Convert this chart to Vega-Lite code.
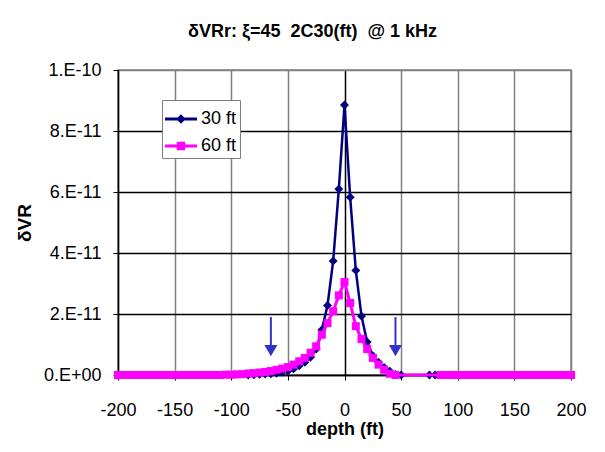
{
  "$schema": "https://vega.github.io/schema/vega-lite/v6.json",
  "autosize": "none",
  "width": 453,
  "height": 305,
  "padding": {"left": 118, "top": 70, "right": 34, "bottom": 77},
  "background": "white",
  "config": {
    "font": "Liberation Sans",
    "view": {"stroke": "#808080", "strokeWidth": 1.5}
  },
  "title": {
    "text": "δVRr: ξ=45 \u00a02C30(ft) \u00a0@ 1 kHz",
    "font": "Liberation Sans",
    "fontSize": 18,
    "fontWeight": "bold",
    "color": "black",
    "anchor": "middle",
    "dx": -32,
    "baseline": "alphabetic",
    "offset": 6
  },
  "datasets": {
    "curves": [
      {"series": "30 ft", "depth": -85, "v": 0.0},
      {"series": "30 ft", "depth": -80, "v": 0.01e-11},
      {"series": "30 ft", "depth": -75, "v": 0.02e-11},
      {"series": "30 ft", "depth": -70, "v": 0.03e-11},
      {"series": "30 ft", "depth": -65, "v": 0.04e-11},
      {"series": "30 ft", "depth": -60, "v": 0.06e-11},
      {"series": "30 ft", "depth": -55, "v": 0.09e-11},
      {"series": "30 ft", "depth": -50, "v": 0.13e-11},
      {"series": "30 ft", "depth": -45, "v": 0.2e-11},
      {"series": "30 ft", "depth": -40, "v": 0.3e-11},
      {"series": "30 ft", "depth": -35, "v": 0.42e-11},
      {"series": "30 ft", "depth": -30, "v": 0.58e-11},
      {"series": "30 ft", "depth": -25, "v": 0.85e-11},
      {"series": "30 ft", "depth": -20, "v": 1.48e-11},
      {"series": "30 ft", "depth": -15, "v": 2.28e-11},
      {"series": "30 ft", "depth": -10, "v": 3.74e-11},
      {"series": "30 ft", "depth": -5, "v": 6.1e-11},
      {"series": "30 ft", "depth": 0, "v": 8.85e-11},
      {"series": "30 ft", "depth": 5, "v": 5.83e-11},
      {"series": "30 ft", "depth": 10, "v": 3.43e-11},
      {"series": "30 ft", "depth": 15, "v": 1.93e-11},
      {"series": "30 ft", "depth": 20, "v": 1.08e-11},
      {"series": "30 ft", "depth": 25, "v": 0.63e-11},
      {"series": "30 ft", "depth": 30, "v": 0.42e-11},
      {"series": "30 ft", "depth": 35, "v": 0.25e-11},
      {"series": "30 ft", "depth": 40, "v": 0.12e-11},
      {"series": "30 ft", "depth": 45, "v": 0.02e-11},
      {"series": "30 ft", "depth": 50, "v": 0.0},
      {"series": "30 ft", "depth": 75, "v": 0.0},
      {"series": "30 ft", "depth": 80, "v": 0.0},
      {"series": "60 ft", "depth": -200, "v": 0.0},
      {"series": "60 ft", "depth": -195, "v": 0.0},
      {"series": "60 ft", "depth": -190, "v": 0.0},
      {"series": "60 ft", "depth": -185, "v": 0.0},
      {"series": "60 ft", "depth": -180, "v": 0.0},
      {"series": "60 ft", "depth": -175, "v": 0.0},
      {"series": "60 ft", "depth": -170, "v": 0.0},
      {"series": "60 ft", "depth": -165, "v": 0.0},
      {"series": "60 ft", "depth": -160, "v": 0.0},
      {"series": "60 ft", "depth": -155, "v": 0.0},
      {"series": "60 ft", "depth": -150, "v": 0.0},
      {"series": "60 ft", "depth": -145, "v": 0.0},
      {"series": "60 ft", "depth": -140, "v": 0.0},
      {"series": "60 ft", "depth": -135, "v": 0.0},
      {"series": "60 ft", "depth": -130, "v": 0.0},
      {"series": "60 ft", "depth": -125, "v": 0.0},
      {"series": "60 ft", "depth": -120, "v": 0.0},
      {"series": "60 ft", "depth": -115, "v": 0.0},
      {"series": "60 ft", "depth": -110, "v": 0.0},
      {"series": "60 ft", "depth": -105, "v": 0.01e-11},
      {"series": "60 ft", "depth": -100, "v": 0.01e-11},
      {"series": "60 ft", "depth": -95, "v": 0.02e-11},
      {"series": "60 ft", "depth": -90, "v": 0.03e-11},
      {"series": "60 ft", "depth": -85, "v": 0.05e-11},
      {"series": "60 ft", "depth": -80, "v": 0.06e-11},
      {"series": "60 ft", "depth": -75, "v": 0.08e-11},
      {"series": "60 ft", "depth": -70, "v": 0.1e-11},
      {"series": "60 ft", "depth": -65, "v": 0.13e-11},
      {"series": "60 ft", "depth": -60, "v": 0.17e-11},
      {"series": "60 ft", "depth": -55, "v": 0.21e-11},
      {"series": "60 ft", "depth": -50, "v": 0.26e-11},
      {"series": "60 ft", "depth": -45, "v": 0.34e-11},
      {"series": "60 ft", "depth": -40, "v": 0.45e-11},
      {"series": "60 ft", "depth": -35, "v": 0.56e-11},
      {"series": "60 ft", "depth": -30, "v": 0.73e-11},
      {"series": "60 ft", "depth": -25, "v": 0.94e-11},
      {"series": "60 ft", "depth": -20, "v": 1.32e-11},
      {"series": "60 ft", "depth": -15, "v": 1.7e-11},
      {"series": "60 ft", "depth": -10, "v": 2.09e-11},
      {"series": "60 ft", "depth": -5, "v": 2.61e-11},
      {"series": "60 ft", "depth": 0, "v": 3.05e-11},
      {"series": "60 ft", "depth": 5, "v": 2.36e-11},
      {"series": "60 ft", "depth": 10, "v": 1.6e-11},
      {"series": "60 ft", "depth": 15, "v": 1.18e-11},
      {"series": "60 ft", "depth": 20, "v": 0.85e-11},
      {"series": "60 ft", "depth": 25, "v": 0.56e-11},
      {"series": "60 ft", "depth": 30, "v": 0.34e-11},
      {"series": "60 ft", "depth": 35, "v": 0.17e-11},
      {"series": "60 ft", "depth": 40, "v": 0.04e-11},
      {"series": "60 ft", "depth": 45, "v": 0.0},
      {"series": "60 ft", "depth": 85, "v": 0.0},
      {"series": "60 ft", "depth": 90, "v": 0.0},
      {"series": "60 ft", "depth": 95, "v": 0.0},
      {"series": "60 ft", "depth": 100, "v": 0.0},
      {"series": "60 ft", "depth": 105, "v": 0.0},
      {"series": "60 ft", "depth": 110, "v": 0.0},
      {"series": "60 ft", "depth": 115, "v": 0.0},
      {"series": "60 ft", "depth": 120, "v": 0.0},
      {"series": "60 ft", "depth": 125, "v": 0.0},
      {"series": "60 ft", "depth": 130, "v": 0.0},
      {"series": "60 ft", "depth": 135, "v": 0.0},
      {"series": "60 ft", "depth": 140, "v": 0.0},
      {"series": "60 ft", "depth": 145, "v": 0.0},
      {"series": "60 ft", "depth": 150, "v": 0.0},
      {"series": "60 ft", "depth": 155, "v": 0.0},
      {"series": "60 ft", "depth": 160, "v": 0.0},
      {"series": "60 ft", "depth": 165, "v": 0.0},
      {"series": "60 ft", "depth": 170, "v": 0.0},
      {"series": "60 ft", "depth": 175, "v": 0.0},
      {"series": "60 ft", "depth": 180, "v": 0.0},
      {"series": "60 ft", "depth": 185, "v": 0.0},
      {"series": "60 ft", "depth": 190, "v": 0.0},
      {"series": "60 ft", "depth": 195, "v": 0.0},
      {"series": "60 ft", "depth": 200, "v": 0.0}
    ],
    "arrows": [
      {"depth": -65, "top": 1.9e-11, "bottom": 0.9e-11, "head": 0.8e-11},
      {"depth": 45, "top": 1.9e-11, "bottom": 0.9e-11, "head": 0.8e-11}
    ]
  },
  "encoding": {
    "x": {
      "field": "depth",
      "type": "quantitative",
      "scale": {"domain": [-200, 200], "nice": false, "zero": false},
      "axis": {
        "title": "depth (ft)",
        "values": [-200, -150, -100, -50, 0, 50, 100, 150, 200],
        "labelExpr": "datum.value < 0 ? '-' + abs(datum.value) : '' + datum.value",
        "labelFont": "Liberation Sans",
        "labelFontSize": 18,
        "labelColor": "black",
        "labelPadding": 21,
        "labelFlush": false,
        "tickColor": "black",
        "tickSize": 5,
        "domainColor": "black",
        "domainWidth": 1.5,
        "grid": true,
        "gridColor": {"condition": {"test": "datum.value === 0", "value": "black"}, "value": "#808080"},
        "gridWidth": 1.5,
        "gridOpacity": 1,
        "titleFont": "Liberation Sans",
        "titleFontSize": 18,
        "titleFontWeight": "bold",
        "titleColor": "black",
        "titlePadding": 1
      }
    },
    "y": {
      "type": "quantitative",
      "scale": {"domain": [0, 1e-10], "nice": false},
      "axis": {
        "title": "δVR",
        "values": [0, 2e-11, 4e-11, 6e-11, 8e-11, 1e-10],
        "labelExpr": "datum.value == 0 ? '0.E+00' : replace(format(datum.value, '.0e'), 'e', '.E')",
        "labelFont": "Liberation Sans",
        "labelFontSize": 18,
        "labelColor": "black",
        "labelPadding": 12,
        "tickColor": "black",
        "tickSize": 5,
        "domainColor": "black",
        "domainWidth": 1.5,
        "grid": true,
        "gridColor": {"condition": {"test": "datum.value >= 9.9e-11", "value": "#808080"}, "value": "black"},
        "gridWidth": 1.5,
        "gridOpacity": 1,
        "titleFont": "Liberation Sans",
        "titleFontSize": 19,
        "titleFontWeight": "bold",
        "titleColor": "black",
        "titlePadding": 9
      }
    }
  },
  "layer": [
    {
      "data": {"name": "curves"},
      "transform": [{"filter": "datum.series === '30 ft'"}],
      "mark": {"type": "line", "strokeWidth": 2.5, "color": "#000080"},
      "encoding": {"y": {"field": "v"}, "order": {"field": "depth"}}
    },
    {
      "data": {"name": "curves"},
      "transform": [{"filter": "datum.series === '30 ft'"}],
      "mark": {"type": "point", "shape": "diamond", "filled": true, "size": 80, "opacity": 1, "color": "#000080"},
      "encoding": {"y": {"field": "v"}}
    },
    {
      "data": {"name": "curves"},
      "transform": [{"filter": "datum.series === '60 ft'"}],
      "mark": {"type": "line", "strokeWidth": 3, "color": "#FF00FF"},
      "encoding": {"y": {"field": "v"}, "order": {"field": "depth"}}
    },
    {
      "data": {"name": "curves"},
      "transform": [{"filter": "datum.series === '60 ft'"}],
      "mark": {"type": "point", "shape": "square", "filled": true, "size": 64, "opacity": 1, "color": "#FF00FF"},
      "encoding": {"y": {"field": "v"}}
    },
    {
      "data": {"name": "arrows"},
      "mark": {"type": "rule", "color": "#3333CC", "strokeWidth": 2},
      "encoding": {"y": {"field": "top"}, "y2": {"field": "bottom"}}
    },
    {
      "data": {"name": "arrows"},
      "mark": {"type": "point", "shape": "triangle-down", "filled": true, "size": 170, "opacity": 1, "color": "#3333CC"},
      "encoding": {"y": {"field": "head"}}
    },
    {
      "data": {"name": "curves"},
      "mark": {"type": "point", "filled": true, "opacity": 0},
      "encoding": {
        "y": {"field": "v"},
        "color": {
          "field": "series",
          "type": "nominal",
          "scale": {"domain": ["30 ft", "60 ft"], "range": ["#000080", "#FF00FF"]},
          "legend": {
            "title": null,
            "orient": "none",
            "legendX": 44,
            "legendY": 30,
            "fillColor": "white",
            "strokeColor": "#808080",
            "padding": 3,
            "rowPadding": 2,
            "symbolSize": 1024,
            "symbolOpacity": 1,
            "symbolStrokeWidth": 0,
            "labelFont": "Liberation Sans",
            "labelFontSize": 18,
            "labelColor": "black",
            "labelOffset": 4
          }
        },
        "shape": {
          "field": "series",
          "type": "nominal",
          "scale": {
            "domain": ["30 ft", "60 ft"],
            "range": [
              "M-1,-0.09H1V0.09H-1ZM0,-0.3L0.3,0L0,0.3L-0.3,0Z",
              "M-1,-0.1H1V0.1H-1ZM-0.26,-0.26H0.26V0.26H-0.26Z"
            ]
          },
          "legend": {
            "title": null,
            "orient": "none",
            "legendX": 44,
            "legendY": 30,
            "fillColor": "white",
            "strokeColor": "#808080",
            "padding": 3,
            "rowPadding": 2,
            "symbolSize": 1024,
            "symbolOpacity": 1,
            "symbolStrokeWidth": 0,
            "labelFont": "Liberation Sans",
            "labelFontSize": 18,
            "labelColor": "black",
            "labelOffset": 4
          }
        }
      }
    }
  ]
}
